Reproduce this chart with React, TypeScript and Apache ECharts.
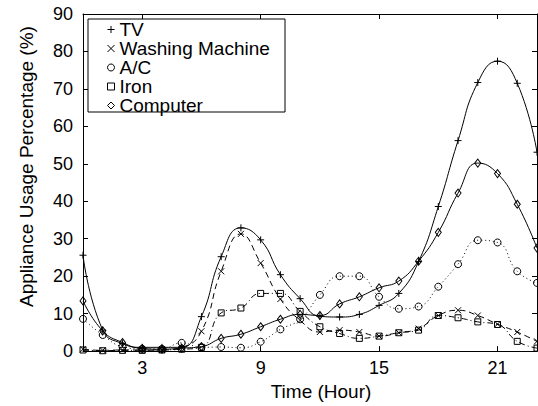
import React, { useEffect, useRef } from "react";
import * as echarts from "echarts";

const hours = [0, 1, 2, 3, 4, 5, 6, 7, 8, 9, 10, 11, 12, 13, 14, 15, 16, 17, 18, 19, 20, 21, 22, 23];
const xTicks = [3, 9, 15, 21];

const tv = [25.6, 5.6, 2.0, 1.0, 1.0, 1.0, 9.2, 25.2, 32.9, 29.7, 20.4, 14.0, 9.3, 9.1, 9.8, 12.2, 15.4, 23.9, 38.6, 56.2, 71.7, 77.4, 71.5, 53.1];
const washing = [0.5, 0.2, 0.3, 0.3, 0.3, 1.0, 5.3, 21.3, 31.3, 23.5, 13.9, 8.2, 5.1, 5.6, 5.1, 4.0, 4.9, 6.0, 9.5, 10.9, 9.5, 7.2, 5.1, 2.6];
const ac = [8.6, 4.3, 1.2, 0.6, 0.6, 2.2, 1.0, 1.1, 0.9, 2.5, 5.8, 8.5, 15.0, 20.0, 20.0, 14.5, 11.3, 11.9, 17.2, 23.2, 29.6, 29.0, 21.3, 18.2];
const iron = [0.3, 0.1, 0.2, 0.2, 0.3, 0.5, 1.0, 10.2, 11.5, 15.4, 15.4, 10.6, 6.5, 4.7, 3.4, 4.0, 4.9, 5.6, 9.5, 8.9, 7.8, 7.1, 2.6, 0.8];
const computer = [13.4, 5.4, 2.3, 0.7, 0.5, 0.8, 1.2, 3.4, 4.5, 6.5, 8.5, 9.8, 9.5, 12.6, 14.5, 16.9, 18.7, 24.0, 31.7, 42.2, 50.2, 47.4, 39.2, 27.5];

const names = ["TV", "Washing Machine", "A/C", "Iron", "Computer"];

const PLUS = "path://M0,5L10,5M5,0L5,10";
const CROSS = "path://M0,0L10,10M10,0L0,10";

const FONT = "'Liberation Sans', Arial, Helvetica, sans-serif";

export default function App() {
  const ref = useRef<HTMLDivElement>(null);

  useEffect(() => {
    if (!ref.current) return;
    const chart = echarts.init(ref.current, null, { renderer: "svg" });

    const hollow = { color: "rgba(0,0,0,0)", borderColor: "#000", borderWidth: 1 };

    const mk = (
      name: string,
      vals: number[],
      symbol: string,
      symbolSize: number | number[],
      type: any
    ) => ({
      name,
      type: "line",
      smooth: 0.5,
      data: hours.map((h, i) => [h, vals[i]]),
      symbol,
      symbolSize,
      itemStyle: hollow,
      lineStyle: { color: "#000", width: 1, type },
      emphasis: { disabled: true },
    });

    const axisLine = { show: true, onZero: false, lineStyle: { color: "#000", width: 1 } };

    chart.setOption({
      animation: false,
      backgroundColor: "#fff",
      textStyle: { fontFamily: FONT },
      grid: { left: 83, right: 1, top: 14, bottom: 48 },
      graphic: [
        {
          type: "rect",
          z: 3,
          shape: { x: 88, y: 19, width: 197, height: 93 },
          style: { fill: "#fff", stroke: "#000", lineWidth: 1 },
        },
      ],
      xAxis: [
        {
          type: "value",
          min: 0,
          max: 23,
          position: "bottom",
          axisLine,
          axisTick: { show: true, inside: true, length: 5, customValues: xTicks, lineStyle: { color: "#000" } },
          axisLabel: { customValues: xTicks, fontSize: 18, color: "#000", margin: 8, fontFamily: FONT },
          splitLine: { show: false },
          name: "Time (Hour)",
          nameLocation: "middle",
          nameGap: 28,
          nameTextStyle: { fontSize: 19, color: "#000", fontFamily: FONT, padding: [0, 0, 0, 22] },
        },
        {
          type: "value",
          min: 0,
          max: 23,
          position: "top",
          axisLine,
          axisTick: { show: true, inside: true, length: 5, customValues: xTicks, lineStyle: { color: "#000" } },
          axisLabel: { show: false },
          splitLine: { show: false },
        },
      ],
      yAxis: [
        {
          type: "value",
          min: 0,
          max: 90,
          interval: 10,
          position: "left",
          axisLine,
          axisTick: { show: true, inside: true, length: 5, lineStyle: { color: "#000" } },
          axisLabel: { fontSize: 18, color: "#000", margin: 10, fontFamily: FONT },
          splitLine: { show: false },
          name: "Appliance Usage Percentage (%)",
          nameLocation: "middle",
          nameGap: 47,
          nameTextStyle: { fontSize: 19, color: "#000", fontFamily: FONT, padding: [0, 0, 0, 32] },
        },
        {
          type: "value",
          min: 0,
          max: 90,
          interval: 10,
          position: "right",
          axisLine,
          axisTick: { show: true, inside: true, length: 5, lineStyle: { color: "#000" } },
          axisLabel: { show: false },
          splitLine: { show: false },
        },
      ],
      legend: {
        z: 5,
        orient: "vertical",
        left: 107,
        top: 20,
        padding: 0,
        itemGap: 0,
        itemWidth: 7,
        itemHeight: 7,
        itemTextGap: 16,
        textStyle: { fontSize: 19, color: "#000", lineHeight: 18, fontFamily: FONT },
        data: [
          { name: names[0], icon: PLUS, itemStyle: hollow },
          { name: names[1], icon: CROSS, itemStyle: hollow },
          { name: names[2], icon: "circle", itemStyle: hollow },
          { name: names[3], icon: "rect", itemStyle: hollow },
          { name: names[4], icon: "diamond", itemStyle: hollow },
        ],
      },
      series: [
        mk(names[0], tv, PLUS, 7, "solid"),
        mk(names[1], washing, CROSS, 6, [6, 4]),
        mk(names[2], ac, "circle", 7, [1, 3]),
        mk(names[3], iron, "rect", 6, [6, 3, 1, 3]),
        mk(names[4], computer, "diamond", [6, 8], "solid"),
      ],
    });

    return () => chart.dispose();
  }, []);

  return (
    <div
      ref={ref}
      style={{ position: "fixed", left: 0, top: 0, width: 538, height: 406 }}
    />
  );
}
